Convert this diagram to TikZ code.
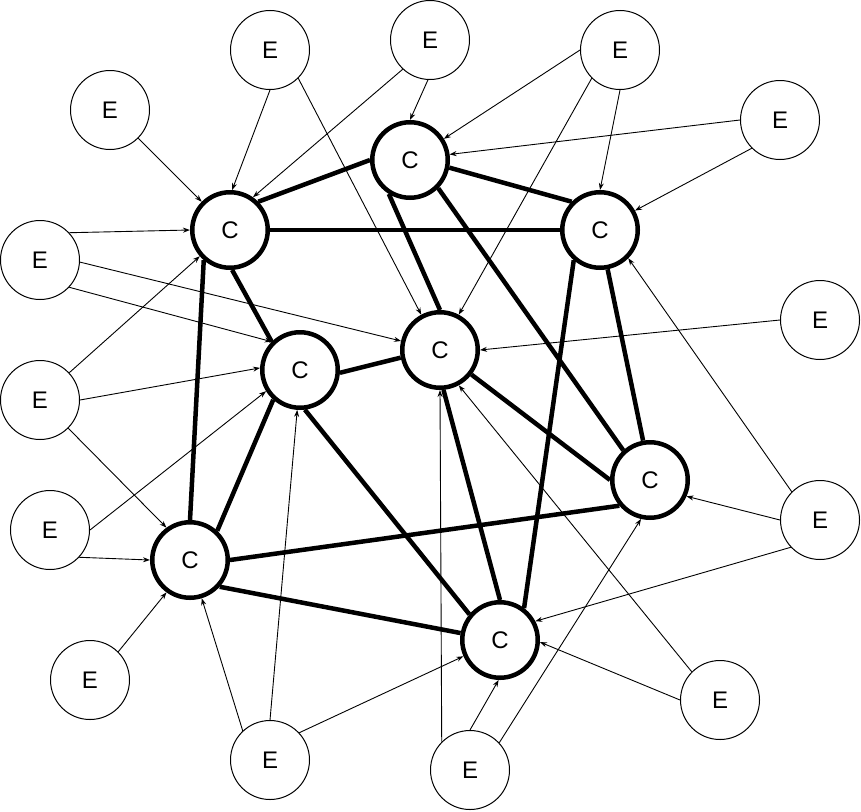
\documentclass[tikz,border=0pt]{standalone}
\usepackage{fontspec}
\setmainfont{Liberation Sans}
\usetikzlibrary{arrows.meta}
\begin{document}
\begin{tikzpicture}[x=1pt,y=-1pt,
  cnode/.style={circle, draw, line width=4.5pt, minimum size=75.5pt, inner sep=0pt, font=\fontsize{24}{24}\selectfont},
  enode/.style={circle, draw, line width=1pt, minimum size=79pt, inner sep=0pt, font=\fontsize{24}{24}\selectfont},
  link/.style={line width=4.5pt},
  feed/.style={line width=0.9pt, -{Stealth[length=7pt,width=5pt]}}]
\useasboundingbox (0,0) rectangle (861,811);
% C nodes
\node[cnode] (C1) at (230,230) {C};
\node[cnode] (C2) at (410,160) {C};
\node[cnode] (C3) at (600,230) {C};
\node[cnode] (C4) at (300,370) {C};
\node[cnode] (C5) at (440,350) {C};
\node[cnode] (C6) at (650,480) {C};
\node[cnode] (C7) at (190,560) {C};
\node[cnode] (C8) at (500,640) {C};
% E nodes
\node[enode] (E1) at (110,110) {E};
\node[enode] (E2) at (270,50) {E};
\node[enode] (E3) at (430,40) {E};
\node[enode] (E4) at (620,50) {E};
\node[enode] (E5) at (780,120) {E};
\node[enode] (E6) at (40,260) {E};
\node[enode] (E7) at (820,320) {E};
\node[enode] (E8) at (40,400) {E};
\node[enode] (E9) at (50,530) {E};
\node[enode] (E10) at (820,520) {E};
\node[enode] (E11) at (90,680) {E};
\node[enode] (E12) at (720,700) {E};
\node[enode] (E13) at (270,760) {E};
\node[enode] (E14) at (470,770) {E};
% thick links
\draw[link] (C1.45) -- (C2.180);
\draw[link] (C1.0) -- (C3.180);
\draw[link] (C1.-87) -- (C4.135);
\draw[link] (C1.229) -- (C7.90);
\draw[link] (C2.-11) -- (C3.135);
\draw[link] (C2.238) -- (C5.90);
\draw[link] (C2.-45) -- (C6.132);
\draw[link] (C3.281) -- (C6.100);
\draw[link] (C3.229) -- (C8.53);
\draw[link] (C4.-4) -- (C5.191);
\draw[link] (C4.-83) -- (C8.140);
\draw[link] (C4.228) -- (C7.47);
\draw[link] (C5.-38) -- (C6.180);
\draw[link] (C5.275) -- (C8.90);
\draw[link] (C6.220) -- (C7.0);
\draw[link] (C7.-42) -- (C8.170);
% feeds
\draw[feed] (E1.-45) -- (C1.135);
\draw[feed] (E2.270) -- (C1.87);
\draw[feed] (E2.-45) -- (C5.118);
\draw[feed] (E3.227) -- (C1.55);
\draw[feed] (E3.267) -- (C2.90);
\draw[feed] (E4.180) -- (C2.32);
\draw[feed] (E4.225) -- (C5.62);
\draw[feed] (E4.270) -- (C3.90);
\draw[feed] (E5.180) -- (C2.8);
\draw[feed] (E5.225) -- (C3.29);
\draw[feed] (E6.43) -- (C1.180);
\draw[feed] (E6.-3) -- (C5.167);
\draw[feed] (E6.-43) -- (C4.135);
\draw[feed] (E7.180) -- (C5.0);
\draw[feed] (E8.43) -- (C1.221);
\draw[feed] (E8.0) -- (C4.177);
\draw[feed] (E8.-45) -- (C7.126);
\draw[feed] (E9.0) -- (C4.212);
\draw[feed] (E9.-43) -- (C7.180);
\draw[feed] (E10.180) -- (C6.-24);
\draw[feed] (E10.135) -- (C3.-45);
\draw[feed] (E10.223) -- (C8.28);
\draw[feed] (E11.45) -- (C7.234);
\draw[feed] (E12.180) -- (C8.-3);
\draw[feed] (E12.135) -- (C5.-62);
\draw[feed] (E13.133) -- (C7.-73);
\draw[feed] (E13.90) -- (C4.266);
\draw[feed] (E13.43) -- (C8.204);
\draw[feed] (E14.135) -- (C5.270);
\draw[feed] (E14.90) -- (C8.268);
\draw[feed] (E14.43) -- (C6.257);
\end{tikzpicture}
\end{document}
